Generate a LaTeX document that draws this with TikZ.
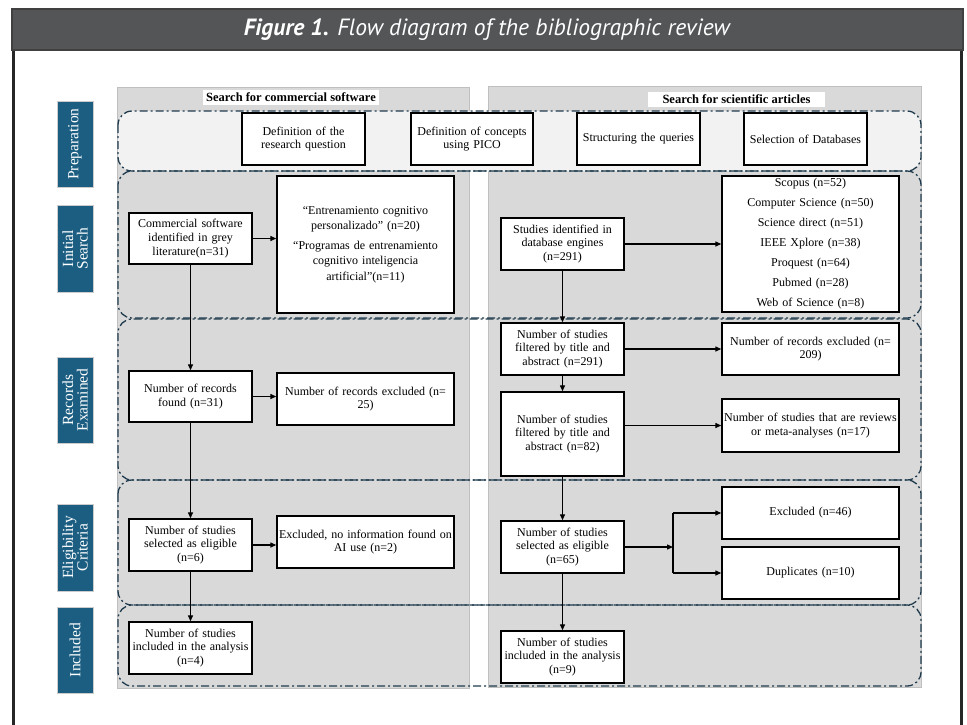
\documentclass[tikz,border=0pt]{standalone}
\usepackage{fontspec}
\setmainfont{Liberation Serif}
\newfontfamily\titlefont{PT Sans}
\usetikzlibrary{arrows.meta}
\definecolor{titlebg}{HTML}{545557}
\definecolor{labblue}{HTML}{1B5E82}
\definecolor{panelgray}{HTML}{D9D9D9}
\definecolor{contcol}{HTML}{1F3B4D}
\definecolor{prepfill}{HTML}{F2F2F2}
\begin{document}
\begin{tikzpicture}[x=1pt,y=-1pt,
 box/.style={draw=black, fill=white, line width=1.4pt, inner sep=2pt, align=center, font=\fontsize{12}{13.7}\selectfont},
 arr/.style={line width=1.3pt, -{Triangle[length=6pt,width=5pt]}},
 lane/.style={draw=contcol, line width=1.3pt, rounded corners=14pt, dash pattern=on 8pt off 3pt on 2pt off 3pt},
 stage/.style={fill=labblue, draw=black!20, line width=1pt, text=white, align=center, font=\fontsize{15.5}{14.5}\selectfont, rotate=90, inner sep=0pt, minimum height=36pt},
 panel/.style={fill=panelgray, draw=black!25, line width=0.8pt},
 ptitle/.style={fill=white, font=\bfseries\fontsize{12.5}{13}\selectfont, inner sep=0pt}
]
\useasboundingbox (0,0) rectangle (967,724);
% frame and title bar
\draw[line width=3pt, black!85] (13.5,50) -- (13.5,730);
\draw[line width=3pt, black!85] (961.5,50) -- (961.5,730);
\filldraw[fill=titlebg, draw=black!75, line width=1.5pt] (12,9) rectangle (963,50);
\node[text=white, font=\titlefont\fontsize{23.5}{25}\selectfont, inner sep=0pt] (title) at (487.5,30)
  {\textbf{\textit{Figure 1.}} \textit{Flow diagram of the bibliographic review}};
% panels
\filldraw[panel] (117,87) rectangle (469,688);
\filldraw[panel] (488,86) rectangle (921,687);
\node[ptitle, minimum width=176pt, minimum height=15pt] (pt1) at (291,97.5) {Search for commercial software};
\node[ptitle, minimum width=177pt, minimum height=15pt] (pt2) at (736.5,99.5) {Search for scientific articles};
% stage labels
\node[stage, minimum width=86pt] (s1) at (75,144) {Preparation};
\node[stage, minimum width=87pt] (s2) at (75,248.5) {Initial\\Search};
\node[stage, minimum width=86pt] (s3) at (75,400) {Records\\Examined};
\node[stage, minimum width=87pt] (s4) at (75,547.5) {Eligibility\\Criteria};
\node[stage, minimum width=86pt] (s5) at (75,650) {Included};
% lanes
\fill[prepfill, rounded corners=14pt] (118,111) rectangle (921,171);
\draw[lane] (118,111) rectangle (921,171);
\draw[lane] (118,171) rectangle (921,318);
\draw[lane] (118,319) rectangle (921,480);
\draw[lane] (118,480) rectangle (921,605);
\draw[lane] (118,605) rectangle (921,686);
% preparation boxes
\node[box, text width=119pt, minimum height=52pt] (q1) at (303.5,139) {Definition of the\\research question};
\node[box, text width=118pt, minimum height=52pt] (q2) at (472,139) {Definition of concepts\\using PICO};
\node[box, text width=119pt, minimum height=52pt] (q3) at (638.5,139) {Structuring the queries};
\node[box, text width=119pt, minimum height=52pt] (q4) at (805.5,139) {Selection of Databases};
% left column
\node[box, text width=119pt, minimum height=51pt] (cs) at (190.5,238.5) {Commercial software\\identified in grey\\literature(n=31)};
\node[box, text width=119pt, minimum height=51pt] (rf) at (190.5,396.5) {Number of records\\found (n=31)};
\node[box, text width=119pt, minimum height=52pt] (el) at (190.5,545) {Number of studies\\selected as eligible\\(n=6)};
\node[box, text width=119pt, minimum height=52pt] (in) at (190.5,648) {Number of studies\\included in the analysis\\(n=4)};
\node[box, text width=173pt, minimum height=137pt, font=\fontsize{12}{15.5}\selectfont] (en) at (365.5,244.5)
  {“Entrenamiento cognitivo\\personalizado” (n=20)\\[4pt]“Programas de entrenamiento\\cognitivo inteligencia\\artificial”(n=11)};
\node[box, text width=173pt, minimum height=52pt] (rx) at (365.5,399) {Number of records excluded (n=\\25)};
\node[box, text width=173pt, minimum height=52pt] (nx) at (365.5,542) {Excluded, no information found on\\AI use (n=2)};
% right column
\node[box, text width=119pt, minimum height=52pt] (sd) at (562.5,244) {Studies identified in\\database engines\\(n=291)};
\node[box, text width=119pt, minimum height=52pt] (f1) at (562.5,349) {Number of studies\\filtered by title and\\abstract (n=291)};
\node[box, text width=119pt, minimum height=84pt] (f2) at (562.5,434) {Number of studies\\filtered by title and\\abstract (n=82)};
\node[box, text width=119pt, minimum height=52pt] (e2) at (562.5,547) {Number of studies\\selected as eligible\\(n=65)};
\node[box, text width=119pt, minimum height=52pt] (i2) at (562.5,657) {Number of studies\\included in the analysis\\(n=9)};
\node[box, text width=173pt, minimum height=136pt, font=\fontsize{12}{20}\selectfont] (db) at (810.5,244)
  {Scopus (n=52)\\Computer Science (n=50)\\Science direct (n=51)\\IEEE Xplore (n=38)\\Proquest (n=64)\\Pubmed (n=28)\\Web of Science (n=8)};
\node[box, text width=173pt, minimum height=52pt] (x1) at (810.5,349) {Number of records excluded (n=\\209)};
\node[box, text width=173pt, minimum height=53pt] (rv) at (810.5,425.5) {Number of studies that are reviews\\or meta-analyses (n=17)};
\node[box, text width=173pt, minimum height=52pt] (ex) at (810.5,513) {Excluded (n=46)};
\node[box, text width=173pt, minimum height=52pt] (du) at (810.5,573) {Duplicates (n=10)};
\coordinate (br) at (673,547);
% arrows left
\draw[arr] (cs.east) -- (cs.east -| en.west);
\draw[arr] (cs.south) -- (rf.north);
\draw[arr] (rf.east) -- (rf.east -| rx.west);
\draw[arr] (rf.south) -- (el.north);
\draw[arr] (el.east) -- (el.east -| nx.west);
\draw[arr] (el.south) -- (in.north);
% arrows right
\draw[arr] (sd.east) -- (sd.east -| db.west);
\draw[arr] (sd.south) -- (f1.north);
\draw[arr] (f1.east) -- (x1.west);
\draw[arr] (f1.south) -- (f2.north);
\draw[arr] (rv.west -| f2.east) -- (rv.west);
\draw[arr] (f2.south) -- (e2.north);
\draw[arr] (e2.east) -- (br);
\draw[line width=1.3pt] (ex.west -| br) -- (du.west -| br);
\draw[arr] (ex.west -| br) -- (ex.west);
\draw[arr] (du.west -| br) -- (du.west);
\draw[arr] (e2.south) -- (i2.north);
\end{tikzpicture}
\end{document}
